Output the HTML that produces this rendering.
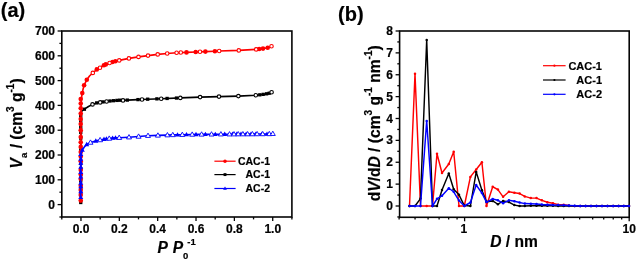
<!DOCTYPE html>
<html><head><meta charset="utf-8"><style>
html,body{margin:0;padding:0;background:#fff;overflow:hidden}
svg{display:block;will-change:transform}
text{font-family:"Liberation Sans", sans-serif;font-weight:bold;fill:#000;stroke:#000;stroke-width:0.2px}
.t{font-size:12px}
.lg{font-size:10.5px}
.lg2{font-size:11px}
.pl{font-size:20px}
.ti{font-size:15.6px}
</style></head><body>
<svg width="637" height="260" viewBox="0 0 637 260">
<rect x="61.8" y="31.0" width="230.10" height="186.00" fill="none" stroke="#050505" stroke-width="1.6"/>
<line x1="59.40" y1="217.00" x2="61.8" y2="217.00" stroke="#050505" stroke-width="1.3"/>
<line x1="57.60" y1="204.60" x2="61.8" y2="204.60" stroke="#050505" stroke-width="1.3"/>
<text x="55.00" y="208.70" text-anchor="end" class="t">0</text>
<line x1="59.40" y1="192.20" x2="61.8" y2="192.20" stroke="#050505" stroke-width="1.3"/>
<line x1="57.60" y1="179.80" x2="61.8" y2="179.80" stroke="#050505" stroke-width="1.3"/>
<text x="55.00" y="183.90" text-anchor="end" class="t">100</text>
<line x1="59.40" y1="167.40" x2="61.8" y2="167.40" stroke="#050505" stroke-width="1.3"/>
<line x1="57.60" y1="155.00" x2="61.8" y2="155.00" stroke="#050505" stroke-width="1.3"/>
<text x="55.00" y="159.10" text-anchor="end" class="t">200</text>
<line x1="59.40" y1="142.60" x2="61.8" y2="142.60" stroke="#050505" stroke-width="1.3"/>
<line x1="57.60" y1="130.20" x2="61.8" y2="130.20" stroke="#050505" stroke-width="1.3"/>
<text x="55.00" y="134.30" text-anchor="end" class="t">300</text>
<line x1="59.40" y1="117.80" x2="61.8" y2="117.80" stroke="#050505" stroke-width="1.3"/>
<line x1="57.60" y1="105.40" x2="61.8" y2="105.40" stroke="#050505" stroke-width="1.3"/>
<text x="55.00" y="109.50" text-anchor="end" class="t">400</text>
<line x1="59.40" y1="93.00" x2="61.8" y2="93.00" stroke="#050505" stroke-width="1.3"/>
<line x1="57.60" y1="80.60" x2="61.8" y2="80.60" stroke="#050505" stroke-width="1.3"/>
<text x="55.00" y="84.70" text-anchor="end" class="t">500</text>
<line x1="59.40" y1="68.20" x2="61.8" y2="68.20" stroke="#050505" stroke-width="1.3"/>
<line x1="57.60" y1="55.80" x2="61.8" y2="55.80" stroke="#050505" stroke-width="1.3"/>
<text x="55.00" y="59.90" text-anchor="end" class="t">600</text>
<line x1="59.40" y1="43.40" x2="61.8" y2="43.40" stroke="#050505" stroke-width="1.3"/>
<line x1="57.60" y1="31.00" x2="61.8" y2="31.00" stroke="#050505" stroke-width="1.3"/>
<text x="55.00" y="35.10" text-anchor="end" class="t">700</text>
<line x1="61.80" y1="217.0" x2="61.80" y2="219.40" stroke="#050505" stroke-width="1.3"/>
<line x1="80.97" y1="217.0" x2="80.97" y2="221.00" stroke="#050505" stroke-width="1.3"/>
<text x="80.97" y="233.0" text-anchor="middle" class="t">0.0</text>
<line x1="100.15" y1="217.0" x2="100.15" y2="219.40" stroke="#050505" stroke-width="1.3"/>
<line x1="119.33" y1="217.0" x2="119.33" y2="221.00" stroke="#050505" stroke-width="1.3"/>
<text x="119.33" y="233.0" text-anchor="middle" class="t">0.2</text>
<line x1="138.50" y1="217.0" x2="138.50" y2="219.40" stroke="#050505" stroke-width="1.3"/>
<line x1="157.67" y1="217.0" x2="157.67" y2="221.00" stroke="#050505" stroke-width="1.3"/>
<text x="157.67" y="233.0" text-anchor="middle" class="t">0.4</text>
<line x1="176.85" y1="217.0" x2="176.85" y2="219.40" stroke="#050505" stroke-width="1.3"/>
<line x1="196.02" y1="217.0" x2="196.02" y2="221.00" stroke="#050505" stroke-width="1.3"/>
<text x="196.02" y="233.0" text-anchor="middle" class="t">0.6</text>
<line x1="215.20" y1="217.0" x2="215.20" y2="219.40" stroke="#050505" stroke-width="1.3"/>
<line x1="234.38" y1="217.0" x2="234.38" y2="221.00" stroke="#050505" stroke-width="1.3"/>
<text x="234.38" y="233.0" text-anchor="middle" class="t">0.8</text>
<line x1="253.55" y1="217.0" x2="253.55" y2="219.40" stroke="#050505" stroke-width="1.3"/>
<line x1="272.72" y1="217.0" x2="272.72" y2="221.00" stroke="#050505" stroke-width="1.3"/>
<text x="272.72" y="233.0" text-anchor="middle" class="t">1.0</text>
<line x1="291.90" y1="217.0" x2="291.90" y2="219.40" stroke="#050505" stroke-width="1.3"/>
<g>
<polyline points="80.60,202.50 80.70,180.00 80.80,150.00 80.90,125.00 81.00,112.00 82.60,110.40 84.40,109.20 88.50,106.50 92.50,104.40 96.70,102.90 100.20,102.40 103.10,101.90 106.60,101.50 110.00,101.00 113.50,100.70 117.00,100.40 119.80,100.20 123.00,100.40 127.30,100.10 138.00,99.60 147.70,99.20 161.20,98.70 180.30,97.90 200.10,97.10 219.00,96.60 238.40,96.10 255.80,95.30 258.40,95.00 261.50,94.60 265.00,94.10 268.80,93.40 271.60,92.20" fill="none" stroke="#000" stroke-width="1.6" stroke-linejoin="round"/>
<rect x="79.10" y="200.85" width="3.3" height="3.3" fill="#000"/>
<rect x="79.10" y="191.35" width="3.3" height="3.3" fill="#000"/>
<rect x="79.10" y="186.35" width="3.3" height="3.3" fill="#000"/>
<rect x="79.10" y="179.35" width="3.3" height="3.3" fill="#000"/>
<rect x="79.10" y="173.35" width="3.3" height="3.3" fill="#000"/>
<rect x="79.10" y="167.05" width="3.3" height="3.3" fill="#000"/>
<rect x="79.10" y="161.85" width="3.3" height="3.3" fill="#000"/>
<rect x="79.10" y="148.35" width="3.3" height="3.3" fill="#000"/>
<rect x="79.10" y="136.55" width="3.3" height="3.3" fill="#000"/>
<rect x="79.10" y="130.85" width="3.3" height="3.3" fill="#000"/>
<rect x="79.10" y="125.65" width="3.3" height="3.3" fill="#000"/>
<rect x="79.10" y="119.35" width="3.3" height="3.3" fill="#000"/>
<rect x="79.10" y="114.35" width="3.3" height="3.3" fill="#000"/>
<rect x="82.75" y="107.55" width="3.3" height="3.3" fill="#000"/>
<rect x="95.05" y="101.25" width="3.3" height="3.3" fill="#000"/>
<rect x="101.45" y="100.25" width="3.3" height="3.3" fill="#000"/>
<rect x="108.35" y="99.35" width="3.3" height="3.3" fill="#000"/>
<rect x="111.85" y="99.05" width="3.3" height="3.3" fill="#000"/>
<rect x="115.35" y="98.75" width="3.3" height="3.3" fill="#000"/>
<rect x="118.15" y="98.55" width="3.3" height="3.3" fill="#000"/>
<rect x="125.65" y="98.45" width="3.3" height="3.3" fill="#000"/>
<rect x="136.35" y="97.95" width="3.3" height="3.3" fill="#000"/>
<rect x="146.05" y="97.55" width="3.3" height="3.3" fill="#000"/>
<rect x="155.25" y="97.21" width="3.3" height="3.3" fill="#000"/>
<rect x="165.45" y="96.80" width="3.3" height="3.3" fill="#000"/>
<rect x="174.85" y="96.41" width="3.3" height="3.3" fill="#000"/>
<rect x="258.15" y="93.17" width="3.3" height="3.3" fill="#000"/>
<rect x="261.55" y="92.71" width="3.3" height="3.3" fill="#000"/>
<rect x="264.95" y="92.16" width="3.3" height="3.3" fill="#000"/>
<rect x="267.55" y="91.58" width="3.3" height="3.3" fill="#000"/>
<circle cx="92.50" cy="104.40" r="1.75" fill="#fff" stroke="#000" stroke-width="1.1"/>
<circle cx="100.20" cy="102.40" r="1.75" fill="#fff" stroke="#000" stroke-width="1.1"/>
<circle cx="106.60" cy="101.50" r="1.75" fill="#fff" stroke="#000" stroke-width="1.1"/>
<circle cx="123.00" cy="100.40" r="1.75" fill="#fff" stroke="#000" stroke-width="1.1"/>
<circle cx="142.00" cy="99.44" r="1.75" fill="#fff" stroke="#000" stroke-width="1.1"/>
<circle cx="161.20" cy="98.70" r="1.75" fill="#fff" stroke="#000" stroke-width="1.1"/>
<circle cx="180.30" cy="97.90" r="1.75" fill="#fff" stroke="#000" stroke-width="1.1"/>
<circle cx="200.10" cy="97.10" r="1.75" fill="#fff" stroke="#000" stroke-width="1.1"/>
<circle cx="219.00" cy="96.60" r="1.75" fill="#fff" stroke="#000" stroke-width="1.1"/>
<circle cx="238.40" cy="96.10" r="1.75" fill="#fff" stroke="#000" stroke-width="1.1"/>
<circle cx="255.80" cy="95.30" r="1.75" fill="#fff" stroke="#000" stroke-width="1.1"/>
<circle cx="271.60" cy="92.20" r="1.75" fill="#fff" stroke="#000" stroke-width="1.1"/>
<polyline points="80.70,202.50 80.80,180.00 80.90,150.00 81.00,125.00 81.10,110.00 81.30,100.00 82.00,94.00 83.20,88.50 84.60,84.20 86.80,79.80 89.50,76.00 92.80,72.90 96.80,69.50 100.00,67.70 104.00,65.30 109.00,63.20 113.40,61.70 119.20,60.40 128.90,58.40 138.50,56.90 148.00,55.60 157.70,54.40 167.20,53.50 176.60,52.70 186.50,52.40 195.70,52.00 205.40,51.60 214.90,51.20 219.20,51.00 238.80,50.40 256.20,49.40 259.20,49.00 263.00,48.60 267.70,47.80 271.50,46.20" fill="none" stroke="#ff0000" stroke-width="1.6" stroke-linejoin="round"/>
<circle cx="80.75" cy="200.50" r="2.30" fill="#ff0000"/>
<circle cx="80.75" cy="195.00" r="2.30" fill="#ff0000"/>
<circle cx="80.75" cy="190.00" r="2.30" fill="#ff0000"/>
<circle cx="80.75" cy="185.80" r="2.30" fill="#ff0000"/>
<circle cx="80.75" cy="179.00" r="2.30" fill="#ff0000"/>
<circle cx="80.75" cy="174.50" r="2.30" fill="#ff0000"/>
<circle cx="80.75" cy="169.90" r="2.30" fill="#ff0000"/>
<circle cx="80.75" cy="161.20" r="2.30" fill="#ff0000"/>
<circle cx="80.75" cy="156.60" r="2.30" fill="#ff0000"/>
<circle cx="80.75" cy="152.00" r="2.30" fill="#ff0000"/>
<circle cx="80.75" cy="146.90" r="2.30" fill="#ff0000"/>
<circle cx="80.75" cy="142.30" r="2.30" fill="#ff0000"/>
<circle cx="80.75" cy="137.00" r="2.30" fill="#ff0000"/>
<circle cx="80.75" cy="130.20" r="2.30" fill="#ff0000"/>
<circle cx="80.75" cy="124.00" r="2.30" fill="#ff0000"/>
<circle cx="80.75" cy="119.00" r="2.30" fill="#ff0000"/>
<circle cx="80.75" cy="113.50" r="2.30" fill="#ff0000"/>
<circle cx="80.75" cy="108.30" r="2.30" fill="#ff0000"/>
<circle cx="80.75" cy="103.50" r="2.30" fill="#ff0000"/>
<circle cx="80.75" cy="99.10" r="2.30" fill="#ff0000"/>
<circle cx="82.30" cy="93.10" r="2.30" fill="#ff0000"/>
<circle cx="84.10" cy="85.30" r="2.30" fill="#ff0000"/>
<circle cx="86.80" cy="79.80" r="2.30" fill="#ff0000"/>
<circle cx="96.80" cy="69.40" r="2.30" fill="#ff0000"/>
<circle cx="103.90" cy="65.30" r="2.30" fill="#ff0000"/>
<circle cx="105.80" cy="64.40" r="2.30" fill="#ff0000"/>
<circle cx="112.50" cy="62.00" r="2.30" fill="#ff0000"/>
<circle cx="115.40" cy="61.20" r="2.30" fill="#ff0000"/>
<circle cx="186.50" cy="52.40" r="2.30" fill="#ff0000"/>
<circle cx="195.70" cy="52.00" r="2.30" fill="#ff0000"/>
<circle cx="205.40" cy="51.60" r="2.30" fill="#ff0000"/>
<circle cx="214.90" cy="51.20" r="2.30" fill="#ff0000"/>
<circle cx="259.20" cy="49.00" r="2.30" fill="#ff0000"/>
<circle cx="263.00" cy="48.60" r="2.30" fill="#ff0000"/>
<circle cx="267.70" cy="47.80" r="2.30" fill="#ff0000"/>
<circle cx="92.80" cy="72.90" r="1.75" fill="#fff" stroke="#ff0000" stroke-width="1.1"/>
<circle cx="100.00" cy="67.70" r="1.75" fill="#fff" stroke="#ff0000" stroke-width="1.1"/>
<circle cx="109.60" cy="63.00" r="1.75" fill="#fff" stroke="#ff0000" stroke-width="1.1"/>
<circle cx="119.25" cy="60.39" r="1.75" fill="#fff" stroke="#ff0000" stroke-width="1.1"/>
<circle cx="128.90" cy="58.40" r="1.75" fill="#fff" stroke="#ff0000" stroke-width="1.1"/>
<circle cx="138.50" cy="56.90" r="1.75" fill="#fff" stroke="#ff0000" stroke-width="1.1"/>
<circle cx="148.00" cy="55.60" r="1.75" fill="#fff" stroke="#ff0000" stroke-width="1.1"/>
<circle cx="157.70" cy="54.40" r="1.75" fill="#fff" stroke="#ff0000" stroke-width="1.1"/>
<circle cx="167.20" cy="53.50" r="1.75" fill="#fff" stroke="#ff0000" stroke-width="1.1"/>
<circle cx="176.60" cy="52.70" r="1.75" fill="#fff" stroke="#ff0000" stroke-width="1.1"/>
<circle cx="180.80" cy="52.57" r="1.75" fill="#fff" stroke="#ff0000" stroke-width="1.1"/>
<circle cx="200.00" cy="51.82" r="1.75" fill="#fff" stroke="#ff0000" stroke-width="1.1"/>
<circle cx="219.20" cy="51.00" r="1.75" fill="#fff" stroke="#ff0000" stroke-width="1.1"/>
<circle cx="238.80" cy="50.40" r="1.75" fill="#fff" stroke="#ff0000" stroke-width="1.1"/>
<circle cx="256.20" cy="49.40" r="1.75" fill="#fff" stroke="#ff0000" stroke-width="1.1"/>
<circle cx="271.50" cy="46.20" r="1.75" fill="#fff" stroke="#ff0000" stroke-width="1.1"/>
<polyline points="80.60,197.30 80.70,180.00 80.80,165.00 81.00,156.00 81.60,152.00 82.30,150.10 84.30,147.00 86.70,144.40 90.50,142.50 95.80,140.90 100.10,140.00 104.00,139.20 109.25,138.50 115.50,137.80 119.30,137.70 128.80,137.20 138.50,136.50 148.00,135.70 157.70,135.40 167.30,135.10 173.00,134.90 182.70,134.70 192.30,134.50 200.00,134.40 210.00,134.30 220.00,134.20 230.00,134.20 240.00,134.10 250.00,134.10 260.00,134.00 268.00,134.00 273.50,133.70" fill="none" stroke="#0000ff" stroke-width="1.6" stroke-linejoin="round"/>
<polygon points="80.75,194.70 78.25,199.03 83.25,199.03" fill="#0000ff"/>
<polygon points="80.75,188.90 78.25,193.23 83.25,193.23" fill="#0000ff"/>
<polygon points="80.75,183.90 78.25,188.23 83.25,188.23" fill="#0000ff"/>
<polygon points="80.75,180.30 78.25,184.63 83.25,184.63" fill="#0000ff"/>
<polygon points="80.75,174.20 78.25,178.53 83.25,178.53" fill="#0000ff"/>
<polygon points="80.75,169.60 78.25,173.93 83.25,173.93" fill="#0000ff"/>
<polygon points="80.75,164.40 78.25,168.73 83.25,168.73" fill="#0000ff"/>
<polygon points="80.75,160.40 78.25,164.73 83.25,164.73" fill="#0000ff"/>
<polygon points="80.75,156.30 78.25,160.63 83.25,160.63" fill="#0000ff"/>
<polygon points="80.75,151.70 78.25,156.03 83.25,156.03" fill="#0000ff"/>
<polygon points="82.30,147.50 79.80,151.83 84.80,151.83" fill="#0000ff"/>
<polygon points="86.70,141.80 84.20,146.13 89.20,146.13" fill="#0000ff"/>
<polygon points="95.80,138.30 93.30,142.63 98.30,142.63" fill="#0000ff"/>
<polygon points="104.00,136.60 101.50,140.93 106.50,140.93" fill="#0000ff"/>
<polygon points="106.40,136.28 103.90,140.61 108.90,140.61" fill="#0000ff"/>
<polygon points="112.60,135.53 110.10,139.86 115.10,139.86" fill="#0000ff"/>
<polygon points="115.50,135.20 113.00,139.53 118.00,139.53" fill="#0000ff"/>
<polygon points="177.50,132.21 175.00,136.54 180.00,136.54" fill="#0000ff"/>
<polygon points="186.50,132.02 184.00,136.35 189.00,136.35" fill="#0000ff"/>
<polygon points="196.00,131.85 193.50,136.18 198.50,136.18" fill="#0000ff"/>
<polygon points="205.40,131.75 202.90,136.08 207.90,136.08" fill="#0000ff"/>
<polygon points="215.30,131.65 212.80,135.98 217.80,135.98" fill="#0000ff"/>
<polygon points="224.70,131.60 222.20,135.93 227.20,135.93" fill="#0000ff"/>
<polygon points="232.50,131.58 230.00,135.91 235.00,135.91" fill="#0000ff"/>
<polygon points="236.80,131.53 234.30,135.86 239.30,135.86" fill="#0000ff"/>
<polygon points="241.00,131.50 238.50,135.83 243.50,135.83" fill="#0000ff"/>
<polygon points="246.20,131.50 243.70,135.83 248.70,135.83" fill="#0000ff"/>
<polygon points="251.00,131.49 248.50,135.82 253.50,135.82" fill="#0000ff"/>
<polygon points="255.70,131.44 253.20,135.78 258.20,135.78" fill="#0000ff"/>
<polygon points="261.80,131.40 259.30,135.73 264.30,135.73" fill="#0000ff"/>
<polygon points="267.00,131.40 264.50,135.73 269.50,135.73" fill="#0000ff"/>
<polygon points="90.50,139.90 88.00,144.23 93.00,144.23" fill="#fff" stroke="#0000ff" stroke-width="0.9"/>
<polygon points="100.10,137.40 97.60,141.73 102.60,141.73" fill="#fff" stroke="#0000ff" stroke-width="0.9"/>
<polygon points="109.25,135.90 106.75,140.23 111.75,140.23" fill="#fff" stroke="#0000ff" stroke-width="0.9"/>
<polygon points="119.20,135.10 116.70,139.43 121.70,139.43" fill="#fff" stroke="#0000ff" stroke-width="0.9"/>
<polygon points="129.00,134.59 126.50,138.92 131.50,138.92" fill="#fff" stroke="#0000ff" stroke-width="0.9"/>
<polygon points="138.60,133.89 136.10,138.22 141.10,138.22" fill="#fff" stroke="#0000ff" stroke-width="0.9"/>
<polygon points="148.00,133.10 145.50,137.43 150.50,137.43" fill="#fff" stroke="#0000ff" stroke-width="0.9"/>
<polygon points="157.90,132.80 155.40,137.13 160.40,137.13" fill="#fff" stroke="#0000ff" stroke-width="0.9"/>
<polygon points="167.40,132.50 164.90,136.83 169.90,136.83" fill="#fff" stroke="#0000ff" stroke-width="0.9"/>
<polygon points="172.80,132.31 170.30,136.64 175.30,136.64" fill="#fff" stroke="#0000ff" stroke-width="0.9"/>
<polygon points="182.30,132.11 179.80,136.44 184.80,136.44" fill="#fff" stroke="#0000ff" stroke-width="0.9"/>
<polygon points="192.20,131.90 189.70,136.23 194.70,136.23" fill="#fff" stroke="#0000ff" stroke-width="0.9"/>
<polygon points="201.60,131.79 199.10,136.12 204.10,136.12" fill="#fff" stroke="#0000ff" stroke-width="0.9"/>
<polygon points="211.50,131.69 209.00,136.02 214.00,136.02" fill="#fff" stroke="#0000ff" stroke-width="0.9"/>
<polygon points="220.90,131.60 218.40,135.93 223.40,135.93" fill="#fff" stroke="#0000ff" stroke-width="0.9"/>
<polygon points="229.50,131.60 227.00,135.93 232.00,135.93" fill="#fff" stroke="#0000ff" stroke-width="0.9"/>
<polygon points="234.00,131.56 231.50,135.89 236.50,135.89" fill="#fff" stroke="#0000ff" stroke-width="0.9"/>
<polygon points="238.20,131.52 235.70,135.85 240.70,135.85" fill="#fff" stroke="#0000ff" stroke-width="0.9"/>
<polygon points="242.90,131.50 240.40,135.83 245.40,135.83" fill="#fff" stroke="#0000ff" stroke-width="0.9"/>
<polygon points="247.60,131.50 245.10,135.83 250.10,135.83" fill="#fff" stroke="#0000ff" stroke-width="0.9"/>
<polygon points="252.40,131.48 249.90,135.81 254.90,135.81" fill="#fff" stroke="#0000ff" stroke-width="0.9"/>
<polygon points="257.10,131.43 254.60,135.76 259.60,135.76" fill="#fff" stroke="#0000ff" stroke-width="0.9"/>
<polygon points="262.70,131.40 260.20,135.73 265.20,135.73" fill="#fff" stroke="#0000ff" stroke-width="0.9"/>
<polygon points="269.30,131.33 266.80,135.66 271.80,135.66" fill="#fff" stroke="#0000ff" stroke-width="0.9"/>
<polygon points="272.80,131.14 270.30,135.47 275.30,135.47" fill="#fff" stroke="#0000ff" stroke-width="0.9"/>
</g>
<line x1="214.4" y1="161.2" x2="235.6" y2="161.2" stroke="#ff0000" stroke-width="1.2"/>
<circle cx="225.00" cy="161.20" r="1.75" fill="#ff0000"/>
<text x="270" y="164.90" text-anchor="end" class="lg">CAC-1</text>
<line x1="214.4" y1="174.6" x2="235.6" y2="174.6" stroke="#000" stroke-width="1.2"/>
<rect x="223.55" y="173.15" width="2.9" height="2.9" fill="#000"/>
<text x="270" y="178.30" text-anchor="end" class="lg">AC-1</text>
<line x1="214.4" y1="188.5" x2="235.6" y2="188.5" stroke="#0000ff" stroke-width="1.2"/>
<polygon points="225.00,186.53 223.10,189.82 226.90,189.82" fill="#0000ff"/>
<text x="270" y="192.20" text-anchor="end" class="lg">AC-2</text>
<text x="0.8" y="17.0" class="pl">(a)</text>
<text transform="translate(22.4,123.4) rotate(-90)" text-anchor="middle" class="ti"><tspan font-style="italic">V</tspan><tspan font-size="9.5" dy="5">a</tspan><tspan dy="-5"> / (cm</tspan><tspan font-size="10" dy="-8.3">3</tspan><tspan dy="8.3"> g</tspan><tspan font-size="10" dy="-8.3">-1</tspan><tspan dy="8.3">)</tspan></text>
<text x="157.5" y="252.6" class="ti"><tspan font-style="italic">P </tspan><tspan font-style="italic" dx="1.1">P</tspan><tspan font-size="9.5" dx="-0.2" dy="6">0</tspan><tspan font-size="9.5" dx="-1.0" dy="-13.3">-1</tspan></text>
<rect x="399.6" y="31.0" width="229.60" height="186.30" fill="none" stroke="#050505" stroke-width="1.6"/>
<line x1="397.30" y1="216.94" x2="399.6" y2="216.94" stroke="#050505" stroke-width="1.3"/>
<line x1="395.60" y1="206.00" x2="399.6" y2="206.00" stroke="#050505" stroke-width="1.3"/>
<text x="393.00" y="210.10" text-anchor="end" class="t">0</text>
<line x1="397.30" y1="195.06" x2="399.6" y2="195.06" stroke="#050505" stroke-width="1.3"/>
<line x1="395.60" y1="184.12" x2="399.6" y2="184.12" stroke="#050505" stroke-width="1.3"/>
<text x="393.00" y="188.22" text-anchor="end" class="t">1</text>
<line x1="397.30" y1="173.19" x2="399.6" y2="173.19" stroke="#050505" stroke-width="1.3"/>
<line x1="395.60" y1="162.25" x2="399.6" y2="162.25" stroke="#050505" stroke-width="1.3"/>
<text x="393.00" y="166.35" text-anchor="end" class="t">2</text>
<line x1="397.30" y1="151.31" x2="399.6" y2="151.31" stroke="#050505" stroke-width="1.3"/>
<line x1="395.60" y1="140.38" x2="399.6" y2="140.38" stroke="#050505" stroke-width="1.3"/>
<text x="393.00" y="144.47" text-anchor="end" class="t">3</text>
<line x1="397.30" y1="129.44" x2="399.6" y2="129.44" stroke="#050505" stroke-width="1.3"/>
<line x1="395.60" y1="118.50" x2="399.6" y2="118.50" stroke="#050505" stroke-width="1.3"/>
<text x="393.00" y="122.60" text-anchor="end" class="t">4</text>
<line x1="397.30" y1="107.56" x2="399.6" y2="107.56" stroke="#050505" stroke-width="1.3"/>
<line x1="395.60" y1="96.62" x2="399.6" y2="96.62" stroke="#050505" stroke-width="1.3"/>
<text x="393.00" y="100.72" text-anchor="end" class="t">5</text>
<line x1="397.30" y1="85.69" x2="399.6" y2="85.69" stroke="#050505" stroke-width="1.3"/>
<line x1="395.60" y1="74.75" x2="399.6" y2="74.75" stroke="#050505" stroke-width="1.3"/>
<text x="393.00" y="78.85" text-anchor="end" class="t">6</text>
<line x1="397.30" y1="63.81" x2="399.6" y2="63.81" stroke="#050505" stroke-width="1.3"/>
<line x1="395.60" y1="52.88" x2="399.6" y2="52.88" stroke="#050505" stroke-width="1.3"/>
<text x="393.00" y="56.98" text-anchor="end" class="t">7</text>
<line x1="397.30" y1="41.94" x2="399.6" y2="41.94" stroke="#050505" stroke-width="1.3"/>
<line x1="395.60" y1="31.00" x2="399.6" y2="31.00" stroke="#050505" stroke-width="1.3"/>
<text x="393.00" y="35.10" text-anchor="end" class="t">8</text>
<line x1="399.10" y1="217.3" x2="399.10" y2="219.60" stroke="#050505" stroke-width="1.3"/>
<line x1="415.05" y1="217.3" x2="415.05" y2="219.60" stroke="#050505" stroke-width="1.3"/>
<line x1="428.08" y1="217.3" x2="428.08" y2="219.60" stroke="#050505" stroke-width="1.3"/>
<line x1="439.10" y1="217.3" x2="439.10" y2="219.60" stroke="#050505" stroke-width="1.3"/>
<line x1="448.65" y1="217.3" x2="448.65" y2="219.60" stroke="#050505" stroke-width="1.3"/>
<line x1="457.07" y1="217.3" x2="457.07" y2="219.60" stroke="#050505" stroke-width="1.3"/>
<line x1="464.60" y1="217.3" x2="464.60" y2="221.30" stroke="#050505" stroke-width="1.3"/>
<text x="463.90" y="233.0" text-anchor="middle" class="t">1</text>
<line x1="514.15" y1="217.3" x2="514.15" y2="219.60" stroke="#050505" stroke-width="1.3"/>
<line x1="543.13" y1="217.3" x2="543.13" y2="219.60" stroke="#050505" stroke-width="1.3"/>
<line x1="563.70" y1="217.3" x2="563.70" y2="219.60" stroke="#050505" stroke-width="1.3"/>
<line x1="579.65" y1="217.3" x2="579.65" y2="219.60" stroke="#050505" stroke-width="1.3"/>
<line x1="592.68" y1="217.3" x2="592.68" y2="219.60" stroke="#050505" stroke-width="1.3"/>
<line x1="603.70" y1="217.3" x2="603.70" y2="219.60" stroke="#050505" stroke-width="1.3"/>
<line x1="613.25" y1="217.3" x2="613.25" y2="219.60" stroke="#050505" stroke-width="1.3"/>
<line x1="621.67" y1="217.3" x2="621.67" y2="219.60" stroke="#050505" stroke-width="1.3"/>
<line x1="629.20" y1="217.3" x2="629.20" y2="221.30" stroke="#050505" stroke-width="1.3"/>
<text x="629.20" y="233.0" text-anchor="middle" class="t">10</text>
<g>
<polyline points="409.50,206.00 415.00,73.66 420.50,206.00 426.70,206.00 432.50,206.00 437.00,153.72 442.00,172.97 448.80,164.00 453.70,151.75 459.00,206.00 464.30,206.00 470.40,176.91 476.20,169.47 481.90,162.25 486.50,206.00 492.70,186.75 497.90,189.59 503.10,196.81 508.90,191.78 514.40,192.66 519.60,193.53 524.80,196.38 530.80,198.12 536.50,198.12 541.90,200.31 547.40,202.28 552.90,203.16 558.20,204.69 563.70,204.69 569.00,205.56 574.70,206.00 580.20,206.00 585.60,206.00 591.00,206.00 596.50,206.00 602.00,206.00 607.50,206.00 613.10,206.00 618.60,206.00 623.80,206.00 629.00,206.00" fill="none" stroke="#ff0000" stroke-width="1.45" stroke-linejoin="round"/><circle cx="409.50" cy="206.00" r="1.25" fill="#ff0000"/><circle cx="415.00" cy="73.66" r="1.25" fill="#ff0000"/><circle cx="420.50" cy="206.00" r="1.25" fill="#ff0000"/><circle cx="426.70" cy="206.00" r="1.25" fill="#ff0000"/><circle cx="432.50" cy="206.00" r="1.25" fill="#ff0000"/><circle cx="437.00" cy="153.72" r="1.25" fill="#ff0000"/><circle cx="442.00" cy="172.97" r="1.25" fill="#ff0000"/><circle cx="448.80" cy="164.00" r="1.25" fill="#ff0000"/><circle cx="453.70" cy="151.75" r="1.25" fill="#ff0000"/><circle cx="459.00" cy="206.00" r="1.25" fill="#ff0000"/><circle cx="464.30" cy="206.00" r="1.25" fill="#ff0000"/><circle cx="470.40" cy="176.91" r="1.25" fill="#ff0000"/><circle cx="476.20" cy="169.47" r="1.25" fill="#ff0000"/><circle cx="481.90" cy="162.25" r="1.25" fill="#ff0000"/><circle cx="486.50" cy="206.00" r="1.25" fill="#ff0000"/><circle cx="492.70" cy="186.75" r="1.25" fill="#ff0000"/><circle cx="497.90" cy="189.59" r="1.25" fill="#ff0000"/><circle cx="503.10" cy="196.81" r="1.25" fill="#ff0000"/><circle cx="508.90" cy="191.78" r="1.25" fill="#ff0000"/><circle cx="514.40" cy="192.66" r="1.25" fill="#ff0000"/><circle cx="519.60" cy="193.53" r="1.25" fill="#ff0000"/><circle cx="524.80" cy="196.38" r="1.25" fill="#ff0000"/><circle cx="530.80" cy="198.12" r="1.25" fill="#ff0000"/><circle cx="536.50" cy="198.12" r="1.25" fill="#ff0000"/><circle cx="541.90" cy="200.31" r="1.25" fill="#ff0000"/><circle cx="547.40" cy="202.28" r="1.25" fill="#ff0000"/><circle cx="552.90" cy="203.16" r="1.25" fill="#ff0000"/><circle cx="558.20" cy="204.69" r="1.25" fill="#ff0000"/><circle cx="563.70" cy="204.69" r="1.25" fill="#ff0000"/><circle cx="569.00" cy="205.56" r="1.25" fill="#ff0000"/><circle cx="574.70" cy="206.00" r="1.25" fill="#ff0000"/><circle cx="580.20" cy="206.00" r="1.25" fill="#ff0000"/><circle cx="585.60" cy="206.00" r="1.25" fill="#ff0000"/><circle cx="591.00" cy="206.00" r="1.25" fill="#ff0000"/><circle cx="596.50" cy="206.00" r="1.25" fill="#ff0000"/><circle cx="602.00" cy="206.00" r="1.25" fill="#ff0000"/><circle cx="607.50" cy="206.00" r="1.25" fill="#ff0000"/><circle cx="613.10" cy="206.00" r="1.25" fill="#ff0000"/><circle cx="618.60" cy="206.00" r="1.25" fill="#ff0000"/><circle cx="623.80" cy="206.00" r="1.25" fill="#ff0000"/><circle cx="629.00" cy="206.00" r="1.25" fill="#ff0000"/>
<polyline points="409.50,206.00 415.00,206.00 420.50,198.56 426.70,39.97 432.50,206.00 437.00,206.00 442.00,190.03 448.80,173.41 453.70,189.16 459.00,194.84 464.30,205.56 470.40,206.00 476.20,171.88 481.90,190.25 486.50,201.84 492.70,200.97 497.90,204.25 503.10,200.97 508.90,202.06 514.40,205.12 519.60,206.00 524.80,206.00 530.80,205.78 536.50,205.78 541.90,205.78 547.40,205.78 552.90,205.78 558.20,206.00 563.70,206.00 569.00,206.00 574.70,206.00 580.20,206.00 585.60,206.00 591.00,206.00 596.50,206.00 602.00,206.00 607.50,206.00 613.10,206.00 618.60,206.00 623.80,206.00 629.00,206.00" fill="none" stroke="#000" stroke-width="1.45" stroke-linejoin="round"/><circle cx="409.50" cy="206.00" r="1.25" fill="#000"/><circle cx="415.00" cy="206.00" r="1.25" fill="#000"/><circle cx="420.50" cy="198.56" r="1.25" fill="#000"/><circle cx="426.70" cy="39.97" r="1.25" fill="#000"/><circle cx="432.50" cy="206.00" r="1.25" fill="#000"/><circle cx="437.00" cy="206.00" r="1.25" fill="#000"/><circle cx="442.00" cy="190.03" r="1.25" fill="#000"/><circle cx="448.80" cy="173.41" r="1.25" fill="#000"/><circle cx="453.70" cy="189.16" r="1.25" fill="#000"/><circle cx="459.00" cy="194.84" r="1.25" fill="#000"/><circle cx="464.30" cy="205.56" r="1.25" fill="#000"/><circle cx="470.40" cy="206.00" r="1.25" fill="#000"/><circle cx="476.20" cy="171.88" r="1.25" fill="#000"/><circle cx="481.90" cy="190.25" r="1.25" fill="#000"/><circle cx="486.50" cy="201.84" r="1.25" fill="#000"/><circle cx="492.70" cy="200.97" r="1.25" fill="#000"/><circle cx="497.90" cy="204.25" r="1.25" fill="#000"/><circle cx="503.10" cy="200.97" r="1.25" fill="#000"/><circle cx="508.90" cy="202.06" r="1.25" fill="#000"/><circle cx="514.40" cy="205.12" r="1.25" fill="#000"/><circle cx="519.60" cy="206.00" r="1.25" fill="#000"/><circle cx="524.80" cy="206.00" r="1.25" fill="#000"/><circle cx="530.80" cy="205.78" r="1.25" fill="#000"/><circle cx="536.50" cy="205.78" r="1.25" fill="#000"/><circle cx="541.90" cy="205.78" r="1.25" fill="#000"/><circle cx="547.40" cy="205.78" r="1.25" fill="#000"/><circle cx="552.90" cy="205.78" r="1.25" fill="#000"/><circle cx="558.20" cy="206.00" r="1.25" fill="#000"/><circle cx="563.70" cy="206.00" r="1.25" fill="#000"/><circle cx="569.00" cy="206.00" r="1.25" fill="#000"/><circle cx="574.70" cy="206.00" r="1.25" fill="#000"/><circle cx="580.20" cy="206.00" r="1.25" fill="#000"/><circle cx="585.60" cy="206.00" r="1.25" fill="#000"/><circle cx="591.00" cy="206.00" r="1.25" fill="#000"/><circle cx="596.50" cy="206.00" r="1.25" fill="#000"/><circle cx="602.00" cy="206.00" r="1.25" fill="#000"/><circle cx="607.50" cy="206.00" r="1.25" fill="#000"/><circle cx="613.10" cy="206.00" r="1.25" fill="#000"/><circle cx="618.60" cy="206.00" r="1.25" fill="#000"/><circle cx="623.80" cy="206.00" r="1.25" fill="#000"/><circle cx="629.00" cy="206.00" r="1.25" fill="#000"/>
<polyline points="409.50,206.00 415.00,206.00 420.50,206.00 426.70,120.91 432.50,206.00 437.00,198.78 442.00,195.72 448.80,188.28 453.70,191.78 459.00,200.53 464.30,206.00 470.40,202.50 476.20,185.00 481.90,193.09 486.50,202.06 492.70,199.00 497.90,200.31 503.10,203.16 508.90,200.31 514.40,201.19 519.60,202.50 524.80,203.59 530.80,203.81 536.50,204.03 541.90,204.47 547.40,204.69 552.90,204.91 558.20,205.12 563.70,205.34 569.00,205.56 574.70,205.78 580.20,206.00 585.60,206.00 591.00,206.00 596.50,206.00 602.00,206.00 607.50,206.00 613.10,206.00 618.60,206.00 623.80,206.00 629.00,206.00" fill="none" stroke="#0000ff" stroke-width="1.45" stroke-linejoin="round"/><circle cx="409.50" cy="206.00" r="1.25" fill="#0000ff"/><circle cx="415.00" cy="206.00" r="1.25" fill="#0000ff"/><circle cx="420.50" cy="206.00" r="1.25" fill="#0000ff"/><circle cx="426.70" cy="120.91" r="1.25" fill="#0000ff"/><circle cx="432.50" cy="206.00" r="1.25" fill="#0000ff"/><circle cx="437.00" cy="198.78" r="1.25" fill="#0000ff"/><circle cx="442.00" cy="195.72" r="1.25" fill="#0000ff"/><circle cx="448.80" cy="188.28" r="1.25" fill="#0000ff"/><circle cx="453.70" cy="191.78" r="1.25" fill="#0000ff"/><circle cx="459.00" cy="200.53" r="1.25" fill="#0000ff"/><circle cx="464.30" cy="206.00" r="1.25" fill="#0000ff"/><circle cx="470.40" cy="202.50" r="1.25" fill="#0000ff"/><circle cx="476.20" cy="185.00" r="1.25" fill="#0000ff"/><circle cx="481.90" cy="193.09" r="1.25" fill="#0000ff"/><circle cx="486.50" cy="202.06" r="1.25" fill="#0000ff"/><circle cx="492.70" cy="199.00" r="1.25" fill="#0000ff"/><circle cx="497.90" cy="200.31" r="1.25" fill="#0000ff"/><circle cx="503.10" cy="203.16" r="1.25" fill="#0000ff"/><circle cx="508.90" cy="200.31" r="1.25" fill="#0000ff"/><circle cx="514.40" cy="201.19" r="1.25" fill="#0000ff"/><circle cx="519.60" cy="202.50" r="1.25" fill="#0000ff"/><circle cx="524.80" cy="203.59" r="1.25" fill="#0000ff"/><circle cx="530.80" cy="203.81" r="1.25" fill="#0000ff"/><circle cx="536.50" cy="204.03" r="1.25" fill="#0000ff"/><circle cx="541.90" cy="204.47" r="1.25" fill="#0000ff"/><circle cx="547.40" cy="204.69" r="1.25" fill="#0000ff"/><circle cx="552.90" cy="204.91" r="1.25" fill="#0000ff"/><circle cx="558.20" cy="205.12" r="1.25" fill="#0000ff"/><circle cx="563.70" cy="205.34" r="1.25" fill="#0000ff"/><circle cx="569.00" cy="205.56" r="1.25" fill="#0000ff"/><circle cx="574.70" cy="205.78" r="1.25" fill="#0000ff"/><circle cx="580.20" cy="206.00" r="1.25" fill="#0000ff"/><circle cx="585.60" cy="206.00" r="1.25" fill="#0000ff"/><circle cx="591.00" cy="206.00" r="1.25" fill="#0000ff"/><circle cx="596.50" cy="206.00" r="1.25" fill="#0000ff"/><circle cx="602.00" cy="206.00" r="1.25" fill="#0000ff"/><circle cx="607.50" cy="206.00" r="1.25" fill="#0000ff"/><circle cx="613.10" cy="206.00" r="1.25" fill="#0000ff"/><circle cx="618.60" cy="206.00" r="1.25" fill="#0000ff"/><circle cx="623.80" cy="206.00" r="1.25" fill="#0000ff"/><circle cx="629.00" cy="206.00" r="1.25" fill="#0000ff"/>
</g>
<line x1="543" y1="65.7" x2="565.6" y2="65.7" stroke="#ff0000" stroke-width="1.2"/>
<circle cx="554.4" cy="65.7" r="1.1" fill="#ff0000"/>
<text x="602" y="69.50" text-anchor="end" class="lg2">CAC-1</text>
<line x1="543" y1="80.0" x2="565.6" y2="80.0" stroke="#000" stroke-width="1.2"/>
<circle cx="554.4" cy="80.0" r="1.1" fill="#000"/>
<text x="602" y="83.80" text-anchor="end" class="lg2">AC-1</text>
<line x1="543" y1="94.3" x2="565.6" y2="94.3" stroke="#0000ff" stroke-width="1.2"/>
<circle cx="554.4" cy="94.3" r="1.1" fill="#0000ff"/>
<text x="602" y="98.10" text-anchor="end" class="lg2">AC-2</text>
<text x="338.0" y="20.7" class="pl">(b)</text>
<text transform="translate(380.0,123.3) rotate(-90)" text-anchor="middle" class="ti">d<tspan font-style="italic">V</tspan>/d<tspan font-style="italic">D</tspan> / (cm<tspan font-size="10" dy="-8.3">3</tspan><tspan dy="8.3"> g</tspan><tspan font-size="10" dy="-8.3">-1</tspan><tspan dy="8.3"> nm</tspan><tspan font-size="10" dy="-8.3">-1</tspan><tspan dy="8.3">)</tspan></text>
<text x="490.2" y="246.6" class="ti"><tspan font-style="italic">D</tspan> / nm</text>
</svg>
</body></html>
